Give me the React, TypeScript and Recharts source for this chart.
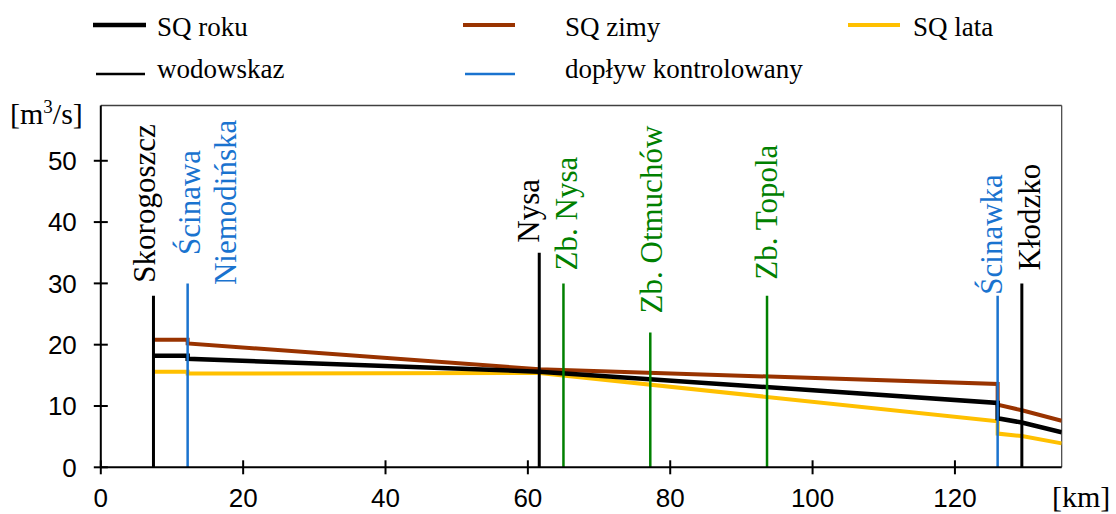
import React from "react";
import { LineChart, Line, XAxis, YAxis, ReferenceLine } from "recharts";

const CHART_W = 1116;
const CHART_H = 514;

const SERIF = '"Liberation Serif", "Times New Roman", serif';
const SANS = '"Liberation Sans", Arial, sans-serif';

const C_BLACK = "#000000";
const C_ZIMA = "#993300";
const C_LATO = "#FFC000";
const C_BLUE = "#1a73cf";
const C_GREEN = "#008000";

// profil podłużny: kilometraż i przepływy SQ [m3/s]
const profileKm = [7.4, 12.2, 12.2, 61.6, 126.0, 126.0, 129.4, 135.0];
const sqRoku = [18.2, 18.2, 17.7, 15.6, 10.5, 8.0, 7.3, 5.7];
const sqZimy = [20.8, 20.8, 20.2, 16.0, 13.6, 10.2, 9.3, 7.6];
const sqLata = [15.6, 15.6, 15.3, 15.4, 7.5, 5.5, 5.1, 3.9];

// wodowskazy, dopływy i zbiorniki
const stationKm = [7.4, 12.2, 61.6, 65.0, 77.2, 93.6, 126.0, 129.4];
const stationTop = [28, 30, 35, 30, 22, 28, 28, 30];
const stationNames = [
  ["Skorogoszcz"],
  ["Ścinawa", "Niemodińska"],
  ["Nysa"],
  ["Zb. Nysa"],
  ["Zb. Otmuchów"],
  ["Zb. Topola"],
  ["Ścinawka"],
  ["Kłodzko"],
];
const stationKind = ["wodowskaz", "doplyw", "wodowskaz", "zbiornik", "zbiornik", "zbiornik", "doplyw", "wodowskaz"];

const xTicks = [0, 20, 40, 60, 80, 100, 120];
const yTicks = [0, 10, 20, 30, 40, 50];

const legendNames = ["SQ roku", "SQ zimy", "SQ lata", "wodowskaz", "dopływ kontrolowany"];

// styl
const KIND_STYLE: Record<string, { color: string; width: number }> = {
  wodowskaz: { color: C_BLACK, width: 3 },
  doplyw: { color: C_BLUE, width: 2.5 },
  zbiornik: { color: C_GREEN, width: 2.5 },
};

// przesunięcia etykiet (dx: od linii do linii bazowej tekstu, gap: odstęp nad końcem linii)
const LABEL_POS = [
  { dx: 2, gap: 13, anchor: "start" },
  { dx: 12, gap: 81, anchor: "middle" },
  { dx: 0, gap: 10, anchor: "start" },
  { dx: 14, gap: 13, anchor: "start" },
  { dx: 12, gap: 19, anchor: "start" },
  { dx: 10, gap: 16, anchor: "start" },
  { dx: 4, gap: 1, anchor: "start" },
  { dx: 18, gap: 13, anchor: "start" },
];

const LEGEND_POS = [
  { x1: 93, x2: 146, ly: 25, tx: 157, ty: 36, color: C_BLACK, w: 4.5 },
  { x1: 463, x2: 515, ly: 25, tx: 565, ty: 36, color: C_ZIMA, w: 4 },
  { x1: 848, x2: 900, ly: 25, tx: 913, ty: 36, color: C_LATO, w: 4 },
  { x1: 96, x2: 145, ly: 74, tx: 157, ty: 78, color: C_BLACK, w: 2.5 },
  { x1: 465, x2: 515, ly: 74, tx: 565, ty: 78, color: C_BLUE, w: 2.5 },
];

const toPoints = (vals: number[]) => profileKm.map((km, i) => ({ km, q: vals[i] }));

const YTick = (props: any) => {
  const { x, y, payload } = props;
  return (
    <g>
      <line x1={x - 7} x2={x + 7} y1={y} y2={y} stroke="#000" strokeWidth={2} />
      <text x={x - 24} y={y} dy="0.36em" textAnchor="end" fontFamily={SANS} fontSize={26} fill="#000">
        {payload.value}
      </text>
    </g>
  );
};

const XTick = (props: any) => {
  const { x, y, payload } = props;
  return (
    <g>
      <line x1={x} x2={x} y1={y - 7} y2={y + 7} stroke="#000" strokeWidth={2} />
      <text x={x} y={y + 40} textAnchor="middle" fontFamily={SANS} fontSize={26} fill="#000">
        {payload.value}
      </text>
    </g>
  );
};

function stationDot(i: number, color: string) {
  return (p: any) => {
    if (p.index !== 1) return <g key={`st-${i}-${p.index}`} />;
    const pos = LABEL_POS[i];
    const lx = p.cx + pos.dx;
    const ly = p.cy - pos.gap;
    return (
      <text
        key={`st-${i}-${p.index}`}
        transform={`translate(${lx},${ly}) rotate(-90)`}
        textAnchor={pos.anchor as any}
        fontFamily={SERIF}
        fontSize={31}
        fill={color}
      >
        {stationNames[i].map((t, k) => (
          <tspan key={k} x={0} dy={k === 0 ? 0 : 36}>
            {t}
          </tspan>
        ))}
      </text>
    );
  };
}

export default function App() {
  const roku = toPoints(sqRoku);
  const zimy = toPoints(sqZimy);
  const lata = toPoints(sqLata);

  return (
    <div style={{ position: "absolute", left: 0, top: 0, width: CHART_W, height: CHART_H, background: "#fff" }}>
      <LineChart width={CHART_W} height={CHART_H} margin={{ top: 105.6, right: 54.3, bottom: 16.7, left: 40 }}>
        <XAxis
          type="number"
          dataKey="km"
          domain={[0, 135]}
          ticks={xTicks}
          tick={<XTick />}
          tickLine={false}
          tickSize={0}
          tickMargin={0}
          height={30}
          axisLine={{ stroke: "#000", strokeWidth: 2 }}
          allowDataOverflow
        />
        <YAxis
          type="number"
          domain={[0, 59]}
          ticks={yTicks}
          tick={<YTick />}
          tickLine={false}
          tickSize={0}
          tickMargin={0}
          width={60.8}
          axisLine={{ stroke: "#000", strokeWidth: 2 }}
          allowDataOverflow
        />
        <ReferenceLine y={59} stroke="#404040" strokeWidth={1.5} />
        <ReferenceLine x={135} stroke="#404040" strokeWidth={1.2} />
        <Line data={zimy} dataKey="q" type="linear" stroke={C_ZIMA} strokeWidth={4} dot={false} activeDot={false} isAnimationActive={false} />
        <Line data={lata} dataKey="q" type="linear" stroke={C_LATO} strokeWidth={4} dot={false} activeDot={false} isAnimationActive={false} />
        <Line data={roku} dataKey="q" type="linear" stroke={C_BLACK} strokeWidth={4.5} dot={false} activeDot={false} isAnimationActive={false} />
        {stationKm.map((km, i) => {
          const st = KIND_STYLE[stationKind[i]];
          return (
            <Line
              key={`station-${i}`}
              data={[
                { km, q: 0 },
                { km, q: stationTop[i] },
              ]}
              dataKey="q"
              type="linear"
              stroke={st.color}
              strokeWidth={st.width}
              dot={stationDot(i, st.color)}
              activeDot={false}
              isAnimationActive={false}
            />
          );
        })}
      </LineChart>
      <svg
        width={CHART_W}
        height={CHART_H}
        style={{ position: "absolute", left: 0, top: 0, pointerEvents: "none" }}
      >
        {legendNames.map((name, i) => {
          const p = LEGEND_POS[i];
          return (
            <g key={name}>
              <line x1={p.x1} x2={p.x2} y1={p.ly} y2={p.ly} stroke={p.color} strokeWidth={p.w} />
              <text x={p.tx} y={p.ty} fontFamily={SERIF} fontSize={27} fill="#000">
                {name}
              </text>
            </g>
          );
        })}
        <text x={10} y={124} fontFamily={SERIF} fontSize={30} fill="#000">
          [m<tspan fontSize={19} dy={-11}>3</tspan>
          <tspan dy={11}>/s]</tspan>
        </text>
        <text x={1052} y={507} fontFamily={SERIF} fontSize={30} fill="#000">
          [km]
        </text>
      </svg>
    </div>
  );
}
